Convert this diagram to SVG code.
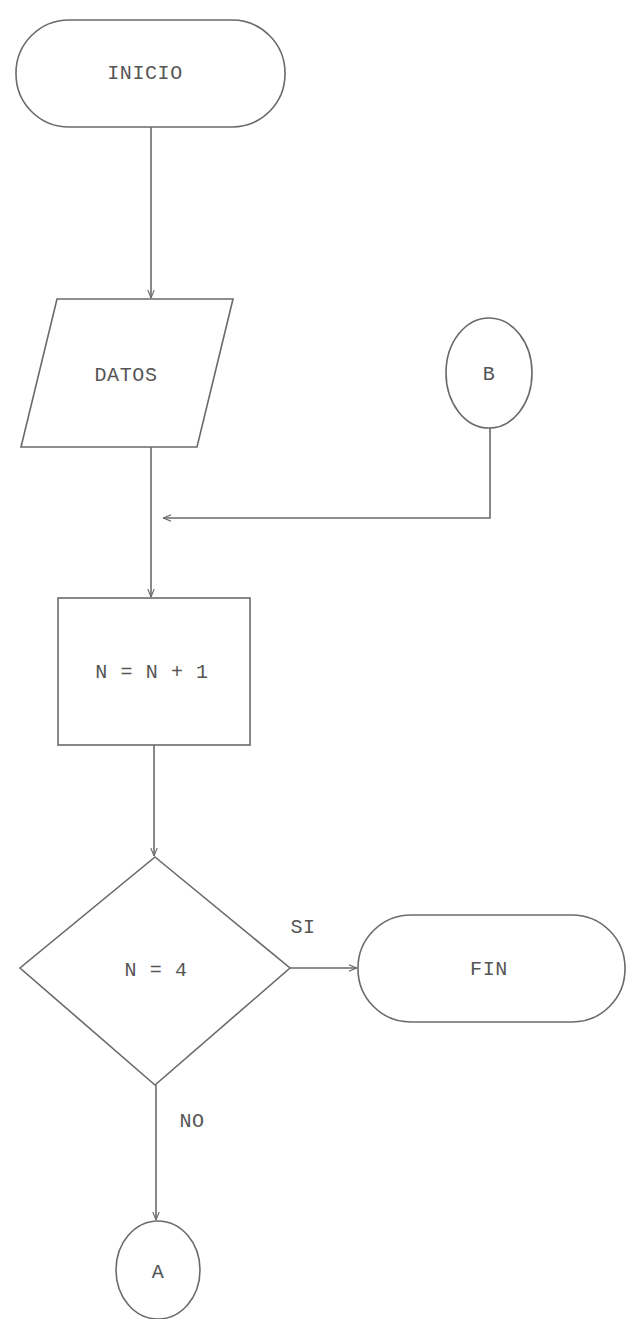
<svg xmlns="http://www.w3.org/2000/svg" width="627" height="1319" viewBox="0 0 627 1319">
<style>
.s{fill:#fff;stroke:#6a6a6a;stroke-width:1.6}
.c{fill:none;stroke:#6a6a6a;stroke-width:1.6}
.t{font-family:"Liberation Mono",monospace;font-size:20px;letter-spacing:0.6px;fill:#555;text-anchor:middle;dominant-baseline:central}
</style>
<defs>
<marker id="ah" viewBox="0 0 10 10" refX="10" refY="5" markerWidth="8" markerHeight="8" orient="auto" markerUnits="userSpaceOnUse">
<path d="M0,1 L10,5 L0,9" fill="none" stroke="#6a6a6a" stroke-width="1.4"/>
</marker>
</defs>
<rect width="627" height="1319" fill="#fff"/>
<g id="connectors">
<line class="c" x1="151" y1="127" x2="151" y2="298" marker-end="url(#ah)"/>
<line class="c" x1="151" y1="447" x2="151" y2="597" marker-end="url(#ah)"/>
<polyline class="c" points="490,428 490,518 163,518" marker-end="url(#ah)"/>
<line class="c" x1="154" y1="745" x2="154" y2="856" marker-end="url(#ah)"/>
<line class="c" x1="290" y1="968" x2="357" y2="968" marker-end="url(#ah)"/>
<line class="c" x1="156" y1="1085" x2="156" y2="1220" marker-end="url(#ah)"/>
<text class="t" x="303" y="927">SI</text>
<text class="t" x="192" y="1121">NO</text>
</g>
<g id="inicio">
<rect class="s" x="16" y="20" width="269" height="107" rx="53" ry="53"/>
<text class="t" x="145" y="73">INICIO</text>
</g>
<g id="datos">
<polygon class="s" points="57,299 233,299 197,447 21,447"/>
<text class="t" x="126" y="375">DATOS</text>
</g>
<g id="b">
<ellipse class="s" cx="489" cy="373" rx="43" ry="55"/>
<text class="t" x="489" y="374">B</text>
</g>
<g id="proceso">
<rect class="s" x="58" y="598" width="192" height="147"/>
<text class="t" x="152" y="672">N = N + 1</text>
</g>
<g id="decision">
<polygon class="s" points="155,857 290,968 155,1085 20,968"/>
<text class="t" x="156" y="970">N = 4</text>
</g>
<g id="fin">
<rect class="s" x="358" y="915" width="267" height="107" rx="53" ry="53"/>
<text class="t" x="489" y="969">FIN</text>
</g>
<g id="a">
<ellipse class="s" cx="158" cy="1270" rx="42" ry="49"/>
<text class="t" x="158" y="1272">A</text>
</g>
</svg>
